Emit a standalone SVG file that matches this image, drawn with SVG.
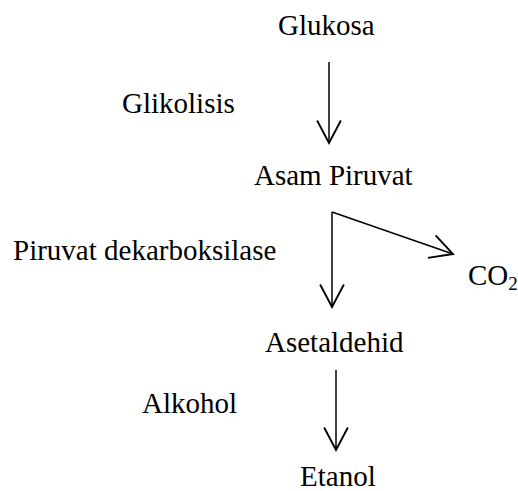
<svg xmlns="http://www.w3.org/2000/svg" width="518" height="491" viewBox="0 0 518 491">
<style>
.t{font-family:'Liberation Serif','Times New Roman',Times,serif;font-size:29px;fill:#000}
.c{fill:none;stroke:#000;stroke-width:1.5}
</style>
<defs>
<marker id="ah" markerUnits="userSpaceOnUse" markerWidth="30" markerHeight="30" viewBox="-20 -12 24 24" refX="0" refY="0" orient="auto">
<path d="M-18,-9.5 L0,0 L-18,9.5" fill="none" stroke="#000" stroke-width="1.5"/>
</marker>
</defs>
<rect width="518" height="491" fill="#fff"/>
<g id="connectors">
<line class="c" x1="329" y1="62" x2="329" y2="143" marker-end="url(#ah)"/>
<line class="c" x1="332" y1="212" x2="332" y2="307" marker-end="url(#ah)"/>
<line class="c" x1="332" y1="212" x2="453" y2="254" marker-end="url(#ah)"/>
<line class="c" x1="336" y1="370" x2="336" y2="450" marker-end="url(#ah)"/>
</g>
<g font-family="Liberation Serif, serif" font-size="29">
<g id="glukosa"><text class="t" x="278" y="35">Glukosa</text></g>
<g id="glikolisis"><text class="t" x="122" y="113">Glikolisis</text></g>
<g id="asam-piruvat"><text class="t" x="254" y="185">Asam Piruvat</text></g>
<g id="piruvat-dekarboksilase"><text class="t" x="13" y="260">Piruvat dekarboksilase</text></g>
<g id="co2"><text class="t" x="468" y="285">CO<tspan font-size="19" dy="5">2</tspan></text></g>
<g id="asetaldehid"><text class="t" x="265" y="352">Asetaldehid</text></g>
<g id="alkohol"><text class="t" x="142" y="413">Alkohol</text></g>
<g id="etanol"><text class="t" x="300" y="486">Etanol</text></g>
</g>
</svg>
